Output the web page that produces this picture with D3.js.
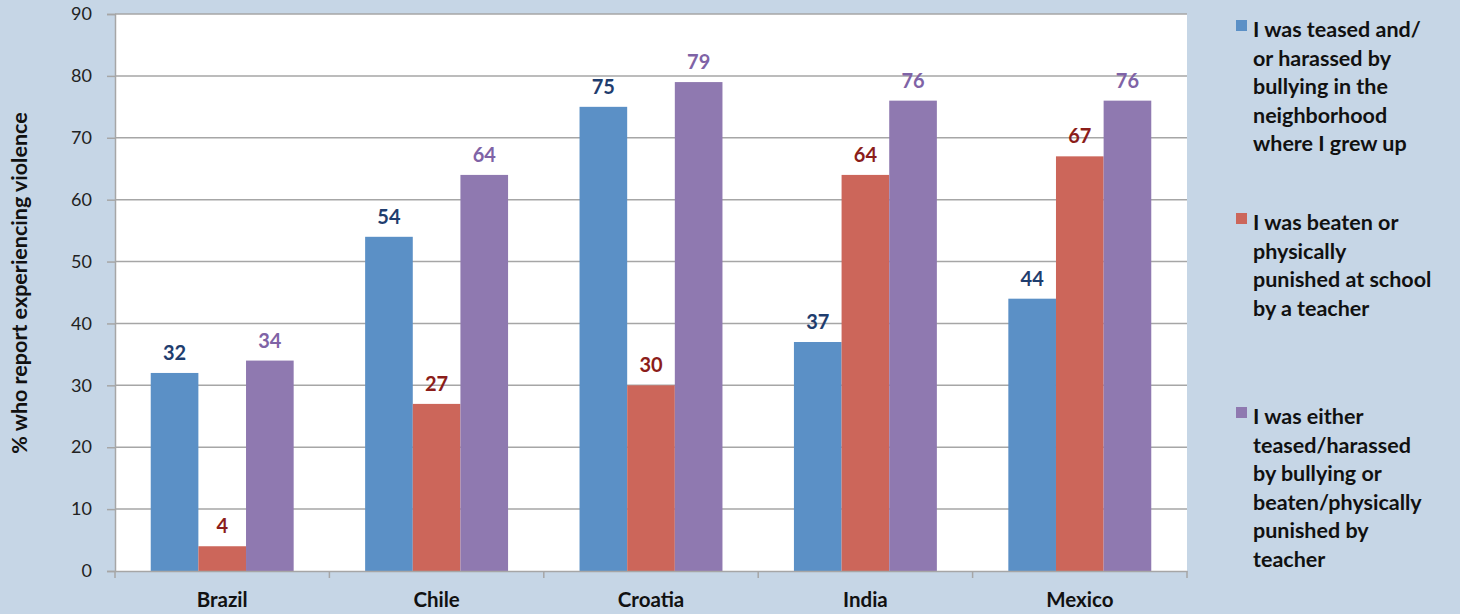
<!DOCTYPE html>
<html><head><meta charset="utf-8">
<script src="https://cdn.jsdelivr.net/npm/d3@7"></script>
<style>
html,body{margin:0;padding:0;background:#c6d6e6;}
svg{display:block;}
text{font-family:Lato,"Open Sans",sans-serif;}
</style></head>
<body><svg id="c" width="1460" height="614"></svg>
<script>
const categories = ["Brazil","Chile","Croatia","India","Mexico"];
const bullied = [32,54,75,37,44];
const beaten = [4,27,30,64,67];
const either = [34,64,79,76,76];
const yTicks = [0,10,20,30,40,50,60,70,80,90];
const seriesNames = [
  ["I was teased and/","or harassed by","bullying in the","neighborhood","where I grew up"],
  ["I was beaten or","physically","punished at school","by a teacher"],
  ["I was either","teased/harassed","by bullying or","beaten/physically","punished by","teacher"]
];
const yTitle = "% who report experiencing violence";

const colors = ["#5b90c6","#cc665a","#8f79b0"];
const labelColors = ["#1f3d6e","#8b1d1a","#7f63a6"];
const series = [bullied, beaten, either];

const svg = d3.select("#c");
const L = 115, R = 1187, T = 14, B = 571;
const x = d3.scaleBand().domain(categories).range([L,R]).paddingInner(0).paddingOuter(0);
const y = d3.scaleLinear().domain([0,90]).range([B,T]);
const bw = x.bandwidth()/4.5;
const gap = bw*0.75;

svg.append("rect").attr("x",L).attr("y",T).attr("width",R-L).attr("height",B-T).attr("fill","#fff");

// gridlines
svg.append("g").selectAll("line").data(yTicks.filter(d=>d>0)).join("line")
  .attr("x1",L).attr("x2",R).attr("y1",d=>y(d)).attr("y2",d=>y(d))
  .attr("stroke","#a6a6a6").attr("stroke-width",1.5);

// y axis
const ya = svg.append("g").attr("transform",`translate(${L},0)`)
  .call(d3.axisLeft(y).tickValues(yTicks).tickSize(8).tickPadding(15).tickFormat(d3.format("d")));
ya.select(".domain").attr("stroke","#a6a6a6").attr("stroke-width",1.5);
ya.selectAll(".tick line").attr("stroke","#a6a6a6").attr("stroke-width",1.5);
ya.selectAll("text").attr("font-size",18).attr("fill","#222").style("font-family","Lato,sans-serif");

// bars
series.forEach((s,i)=>{
  svg.append("g").selectAll("rect").data(s).join("rect")
    .attr("x",(d,j)=>x(categories[j])+gap+i*bw)
    .attr("y",d=>y(d)).attr("width",bw).attr("height",d=>y(0)-y(d))
    .attr("fill",colors[i]);
  svg.append("g").selectAll("text").data(s).join("text")
    .attr("x",(d,j)=>x(categories[j])+gap+i*bw+bw/2)
    .attr("y",d=>y(d)-13)
    .attr("text-anchor","middle").attr("font-size",20).attr("font-weight","bold")
    .attr("fill",labelColors[i]).text(d=>d);
});

// x axis
const xa = svg.append("g").attr("transform",`translate(0,${B})`)
  .call(d3.axisBottom(x).tickSize(0).tickPadding(21));
xa.select(".domain").attr("stroke","#a6a6a6").attr("stroke-width",1.5);
xa.selectAll("text").attr("font-size",20.5).attr("font-weight","bold").attr("fill","#111");
const bounds = categories.map(c=>x(c)).concat([R]);
svg.append("g").selectAll("line").data(bounds).join("line")
  .attr("x1",d=>d).attr("x2",d=>d).attr("y1",B).attr("y2",B+7)
  .attr("stroke","#a6a6a6").attr("stroke-width",1.5);

// y title
svg.append("text").attr("transform",`translate(27,283) rotate(-90)`)
  .attr("text-anchor","middle").attr("font-size",21.5).attr("font-weight","bold")
  .attr("fill","#111").text(yTitle);

// legend
const legY = [29,222,416];
const lg = svg.append("g");
seriesNames.forEach((lines,i)=>{
  lg.append("rect").attr("x",1236).attr("y",legY[i]-9).attr("width",11).attr("height",11).attr("fill",colors[i]);
  const t = lg.append("text").attr("x",1253).attr("y",legY[i]+8)
    .attr("font-size",21.5).attr("font-weight","bold").attr("fill","#111");
  lines.forEach((ln,k)=>t.append("tspan").attr("x",1253).attr("dy",k?28.5:0).text(ln));
});
</script></body></html>
